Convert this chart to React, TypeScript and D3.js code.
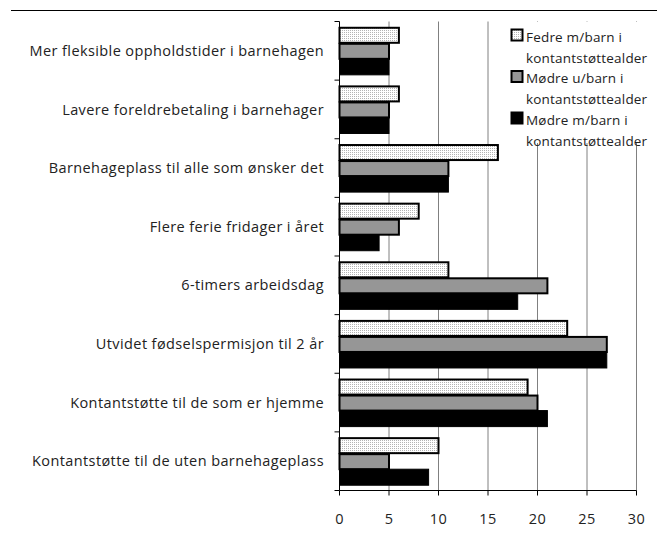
import { useEffect, useRef } from "react";
import * as d3 from "d3";

const categories = [
  "Mer fleksible oppholdstider i barnehagen",
  "Lavere foreldrebetaling i barnehager",
  "Barnehageplass til alle som ønsker det",
  "Flere ferie fridager i året",
  "6-timers arbeidsdag",
  "Utvidet fødselspermisjon til 2 år",
  "Kontantstøtte til de som er hjemme",
  "Kontantstøtte til de uten barnehageplass",
];

const fedre = [6, 6, 16, 8, 11, 23, 19, 10];
const modreUten = [5, 5, 11, 6, 21, 27, 20, 5];
const modreMed = [5, 5, 11, 4, 18, 27, 21, 9];

const seriesNames = [
  ["Fedre m/barn i", "kontantstøttealder"],
  ["Mødre u/barn i", "kontantstøttealder"],
  ["Mødre m/barn i", "kontantstøttealder"],
];

const xTicks = [0, 5, 10, 15, 20, 25, 30];

const W = 657;
const H = 540;
const FONT = "'Open Sans', 'Noto Sans', sans-serif";

export default function App() {
  const ref = useRef<SVGSVGElement>(null);

  useEffect(() => {
    const svg = d3.select(ref.current);
    svg.selectAll("*").remove();

    const series = [fedre, modreUten, modreMed];
    const fills = ["url(#dots)", "#969696", "#000"];

    const defs = svg.append("defs");
    const pat = defs.append("pattern")
      .attr("id", "dots")
      .attr("width", 2)
      .attr("height", 2)
      .attr("patternUnits", "userSpaceOnUse");
    pat.append("rect").attr("width", 2).attr("height", 2).attr("fill", "#fff");
    pat.append("rect").attr("width", 1).attr("height", 1).attr("fill", "#b4b4b4");

    const x = d3.scaleLinear().domain([0, 30]).range([339.5, 636.5]);
    const y = d3.scaleBand<string>()
      .domain(categories)
      .range([21.5, 490.5])
      .paddingInner(0.18)
      .paddingOuter(0.09);
    const ySub = d3.scaleBand<number>()
      .domain([0, 1, 2])
      .range([0, y.bandwidth()]);

    // top rule
    svg.append("line")
      .attr("x1", 11).attr("x2", W)
      .attr("y1", 10.5).attr("y2", 10.5)
      .attr("stroke", "#000");

    // gridlines
    svg.append("g")
      .selectAll("line")
      .data(xTicks.slice(1))
      .join("line")
      .attr("x1", d => x(d)).attr("x2", d => x(d))
      .attr("y1", 21.5).attr("y2", 490.5)
      .attr("stroke", "#808080");

    // bars
    series.forEach((vals, si) => {
      svg.append("g")
        .selectAll("rect")
        .data(vals)
        .join("rect")
        .attr("x", x(0))
        .attr("y", (_, i) => (y(categories[i]) ?? 0) + (ySub(si) ?? 0) + (si < 2 ? 1 : 0))
        .attr("width", d => x(d) - x(0))
        .attr("height", ySub.bandwidth() - (si < 2 ? 1 : 0))
        .attr("fill", fills[si])
        .attr("stroke", "#000")
        .attr("stroke-width", si < 2 ? 2 : 1);
    });

    // y axis
    const yAxis = svg.append("g");
    yAxis.append("line")
      .attr("x1", x(0)).attr("x2", x(0))
      .attr("y1", 21.5).attr("y2", 490.5)
      .attr("stroke", "#000");
    const step = y.step();
    yAxis.selectAll("line.tick")
      .data(d3.range(categories.length + 1))
      .join("line")
      .attr("class", "tick")
      .attr("x1", x(0) - 5).attr("x2", x(0))
      .attr("y1", i => 21.5 + i * step).attr("y2", i => 21.5 + i * step)
      .attr("stroke", "#000");
    yAxis.selectAll("text")
      .data(categories)
      .join("text")
      .attr("x", 324)
      .attr("y", d => (y(d) ?? 0) + y.bandwidth() / 2)
      .attr("dy", "0.35em")
      .attr("text-anchor", "end")
      .attr("font-family", FONT)
      .attr("font-size", 14.5)
      .attr("letter-spacing", 0.4)
      .attr("fill", "#222")
      .text(d => d);

    // x axis
    const xAxis = svg.append("g").attr("transform", "translate(0,490.5)");
    xAxis.append("line")
      .attr("x1", x(0)).attr("x2", x(30))
      .attr("stroke", "#000");
    xAxis.selectAll("line.tick")
      .data(xTicks)
      .join("line")
      .attr("class", "tick")
      .attr("x1", d => x(d)).attr("x2", d => x(d))
      .attr("y1", 0).attr("y2", 5)
      .attr("stroke", "#000");
    xAxis.selectAll("text")
      .data(xTicks)
      .join("text")
      .attr("x", d => x(d))
      .attr("y", 33)
      .attr("text-anchor", "middle")
      .attr("font-family", FONT)
      .attr("font-size", 14.5)
      .attr("letter-spacing", 0.4)
      .attr("fill", "#222")
      .text(d => d);

    // legend
    const leg = svg.append("g");
    leg.append("rect")
      .attr("x", 506).attr("y", 22)
      .attr("width", W - 506).attr("height", 121)
      .attr("fill", "#fff");
    seriesNames.forEach((lines, i) => {
      const top = 29.5 + i * 41.5;
      leg.append("rect")
        .attr("x", 511.5).attr("y", top)
        .attr("width", 11).attr("height", 11)
        .attr("fill", fills[i])
        .attr("stroke", "#000")
        .attr("stroke-width", 2);
      lines.forEach((t, j) => {
        leg.append("text")
          .attr("x", 526)
          .attr("y", top + 12 + j * 21)
          .attr("font-family", FONT)
          .attr("font-size", 13.5)
          .attr("letter-spacing", 0.2)
          .attr("fill", "#222")
          .text(t);
      });
    });
  }, []);

  return (
    <div style={{ position: "absolute", left: 0, top: 0 }}>
      <svg ref={ref} width={W} height={H} style={{ display: "block", background: "#fff" }} />
    </div>
  );
}
